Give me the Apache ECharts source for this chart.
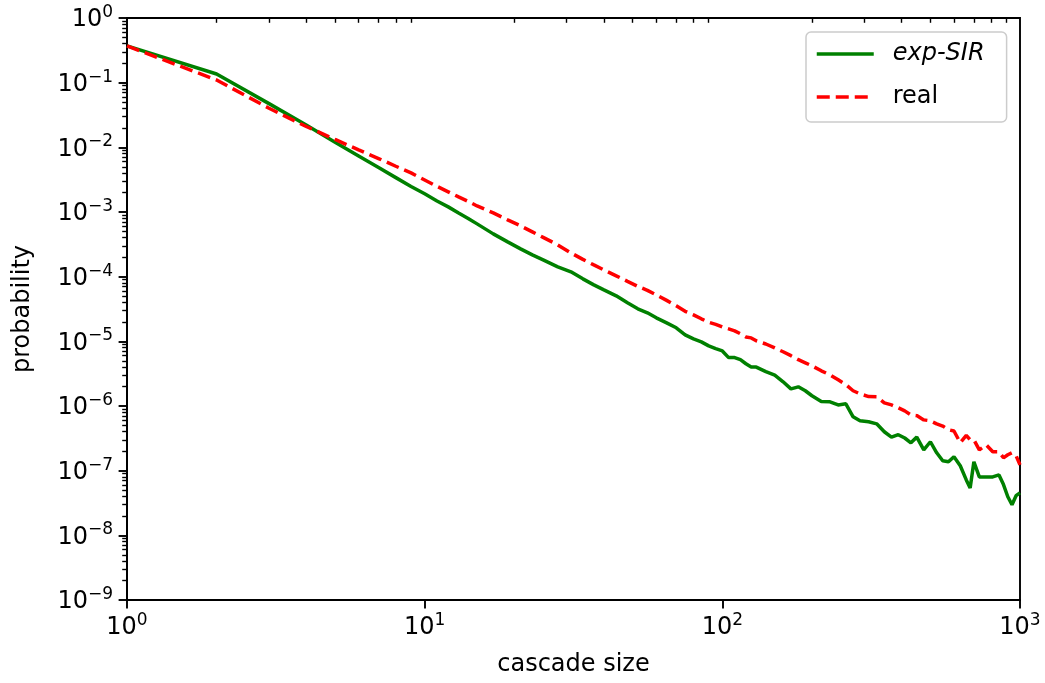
<!DOCTYPE html>
<html>
<head>
<meta charset="utf-8">
<script src="https://cdn.jsdelivr.net/npm/echarts@6/dist/echarts.min.js"></script>
<style>
  html, body { margin: 0; padding: 0; background: #fff; }
  #chart { width: 1045px; height: 683px; }
</style>
</head>
<body>
<div id="chart"></div>
<script>
// cascade sizes shared by both curves
const sizes = [1, 2, 3, 4, 5, 6, 7, 8, 9, 10, 11, 12, 13, 14, 15, 17, 19, 21, 23, 25, 28, 31, 34, 37, 40,
  44, 48, 52, 56, 60, 65, 70, 75, 80, 85, 90, 95, 100, 105, 110, 115, 120, 125, 130, 140, 150, 160,
  170, 180, 190, 200, 215, 230, 245, 260, 275, 290, 310, 330, 350, 370, 390, 410, 430, 450, 475, 500,
  525, 550, 575, 600, 630, 660, 680, 700, 730, 770, 810, 850, 880, 910, 940, 970, 1000];

const expSIR = [0.37, 0.136, 0.0474, 0.0222, 0.012, 0.00736, 0.00487, 0.0034, 0.00248, 0.00191,
  1.48e-3, 1.2e-3, 9.68e-4, 7.96e-4, 6.55e-4, 4.59e-4, 3.45e-4, 2.69e-4, 2.17e-4, 1.82e-4, 1.42e-4,
  1.19e-4, 9.25e-5, 7.47e-5, 6.25e-5, 5.05e-5, 3.94e-5, 3.18e-5, 2.76e-5, 2.31e-5, 1.93e-5, 1.62e-5,
  1.26e-5, 1.09e-5, 9.8e-6, 8.5e-6, 7.7e-6, 7.1e-6, 5.6e-6, 5.6e-6, 5.2e-6, 4.5e-6, 4.0e-6, 4.0e-6,
  3.4e-6, 3.0e-6, 2.37e-6, 1.84e-6, 1.98e-6, 1.72e-6, 1.44e-6, 1.17e-6, 1.16e-6, 1.04e-6, 1.08e-6,
  6.8e-7, 5.9e-7, 5.7e-7, 5.3e-7, 4.0e-7, 3.3e-7, 3.6e-7, 3.2e-7, 2.7e-7, 3.3e-7, 2.1e-7, 2.8e-7,
  1.89e-7, 1.42e-7, 1.37e-7, 1.64e-7, 1.19e-7, 7.2e-8, 5.4e-8, 1.37e-7, 8.0e-8, 8.0e-8, 8.0e-8,
  8.6e-8, 6.1e-8, 3.95e-8, 2.97e-8, 4.1e-8, 4.55e-8];

const real = [0.37, 0.11, 0.0402, 0.021, 0.01325, 0.00912, 0.00671, 0.0051, 0.00402, 0.00313,
  0.00249, 0.00205, 0.00171, 0.00146, 0.00124, 9.68e-4, 7.55e-4, 6.1e-4, 4.93e-4, 4.05e-4, 3.1e-4,
  2.33e-4, 1.85e-4, 1.52e-4, 1.27e-4, 1.03e-4, 8.46e-5, 7.08e-5, 6.14e-5, 5.23e-5, 4.3e-5, 3.54e-5,
  2.91e-5, 2.57e-5, 2.23e-5, 1.97e-5, 1.83e-5, 1.67e-5, 1.56e-5, 1.45e-5, 1.31e-5, 1.17e-5, 1.13e-5,
  1.02e-5, 9.1e-6, 7.9e-6, 6.9e-6, 6.0e-6, 5.2e-6, 4.65e-6, 4.18e-6, 3.5e-6, 3.03e-6, 2.54e-6,
  2.13e-6, 1.72e-6, 1.54e-6, 1.4e-6, 1.39e-6, 1.12e-6, 1.04e-6, 9.4e-7, 8.4e-7, 7.3e-7, 7.1e-7,
  6.1e-7, 5.9e-7, 5.3e-7, 4.9e-7, 4.3e-7, 4.1e-7, 2.7e-7, 3.5e-7, 3.0e-7, 3.0e-7, 2.1e-7, 2.5e-7,
  1.96e-7, 1.96e-7, 1.58e-7, 1.76e-7, 1.89e-7, 1.7e-7, 1.23e-7];

// minor tick values (2..9 in every decade)
const minorSteps = [2, 3, 4, 5, 6, 7, 8, 9];
const xDecades = [1, 10, 100];
const yDecades = [1e-9, 1e-8, 1e-7, 1e-6, 1e-5, 1e-4, 1e-3, 1e-2, 1e-1];

const minorTicks = (decades) => {
  const out = [];
  decades.forEach((d) => minorSteps.forEach((m) => out.push(Math.log10(d * m))));
  return out;
};

const FONT = 'DejaVu Sans';

const powerLabel = (value) => {
  const exp = Math.round(Math.log10(value));
  const sup = exp < 0 ? '\u2212' + Math.abs(exp) : String(exp);
  return '{b|10}{s|' + sup + '}';
};

const labelRich = {
  b: { fontSize: 24, fontFamily: FONT, color: '#000', lineHeight: 28, verticalAlign: 'bottom' },
  s: { fontSize: 17, fontFamily: FONT, color: '#000', lineHeight: 12, verticalAlign: 'top' },
};

const plotBox = { left: 127, right: 25, top: 18, bottom: 83 };

// overlay axis (exponent space, own grid) only used to draw the minor ticks
const minorAxis = (min, max, ticks, position) => ({
  gridIndex: 1, type: 'value', min, max, position,
  axisLine: { show: false },
  axisTick: { show: true, customValues: ticks, length: 4.8, lineStyle: { color: '#000', width: 1.4 } },
  axisLabel: { show: false },
  splitLine: { show: false },
});

const chart = echarts.init(document.getElementById('chart'));

const option = {
  animation: false,
  backgroundColor: '#fff',
  grid: [
    { ...plotBox, show: true, borderColor: '#000', borderWidth: 1.9, backgroundColor: 'transparent' },
    { ...plotBox, show: false },
  ],
  legend: {
    data: ['exp-SIR', 'real'],
    orient: 'vertical',
    left: 806, top: 32,
    backgroundColor: '#fff',
    borderColor: '#cccccc', borderWidth: 1.5, borderRadius: 5,
    padding: [7, 22, 10, 9],
    itemWidth: 57, itemHeight: 14, itemGap: 13,
    itemStyle: { opacity: 0 },
    lineStyle: { width: 3.5 },
    textStyle: {
      fontSize: 24, fontFamily: FONT, color: '#000', lineHeight: 30, padding: [0, 0, 0, 14],
      rich: { it: { fontSize: 24, fontFamily: FONT, fontStyle: 'italic', color: '#000', lineHeight: 30 } },
    },
    formatter: (name) => (name === 'exp-SIR' ? '{it|exp-SIR}' : name),
  },
  xAxis: [
    {
      gridIndex: 0, type: 'log', logBase: 10, min: 1, max: 1000,
      name: 'cascade size', nameLocation: 'middle', nameGap: 53,
      nameTextStyle: { fontSize: 24, fontFamily: FONT, color: '#000' },
      axisLine: { lineStyle: { color: '#000', width: 1.9 } },
      axisTick: { inside: false, length: 8.4, lineStyle: { color: '#000', width: 1.9 } },
      axisLabel: { margin: 12, formatter: powerLabel, rich: labelRich },
      splitLine: { show: false },
      minorTick: { show: false },
    },
    minorAxis(0, 3, minorTicks(xDecades), 'bottom'),
  ],
  yAxis: [
    {
      gridIndex: 0, type: 'log', logBase: 10, min: 1e-9, max: 1, interval: 1,
      name: 'probability', nameLocation: 'middle', nameGap: 92, nameRotate: 90,
      nameTextStyle: { fontSize: 24, fontFamily: FONT, color: '#000' },
      axisLine: { lineStyle: { color: '#000', width: 1.9 } },
      axisTick: { inside: false, length: 8.4, lineStyle: { color: '#000', width: 1.9 } },
      axisLabel: { margin: 14, formatter: powerLabel, rich: labelRich },
      splitLine: { show: false },
    },
    minorAxis(-9, 0, minorTicks(yDecades), 'left'),
  ],
  series: [
    {
      name: 'exp-SIR', type: 'line', symbol: 'none',
      xAxisIndex: 0, yAxisIndex: 0,
      data: sizes.map((s, i) => [s, expSIR[i]]),
      lineStyle: { color: '#008000', width: 3.5 },
      itemStyle: { color: '#008000' },
      z: 3,
    },
    {
      name: 'real', type: 'line', symbol: 'none',
      xAxisIndex: 0, yAxisIndex: 0,
      data: sizes.map((s, i) => [s, real[i]]),
      lineStyle: { color: '#ff0000', width: 3.5, type: [13, 6] },
      itemStyle: { color: '#ff0000' },
      z: 4,
    },
  ],
};

chart.setOption(option);
</script>
</body>
</html>
